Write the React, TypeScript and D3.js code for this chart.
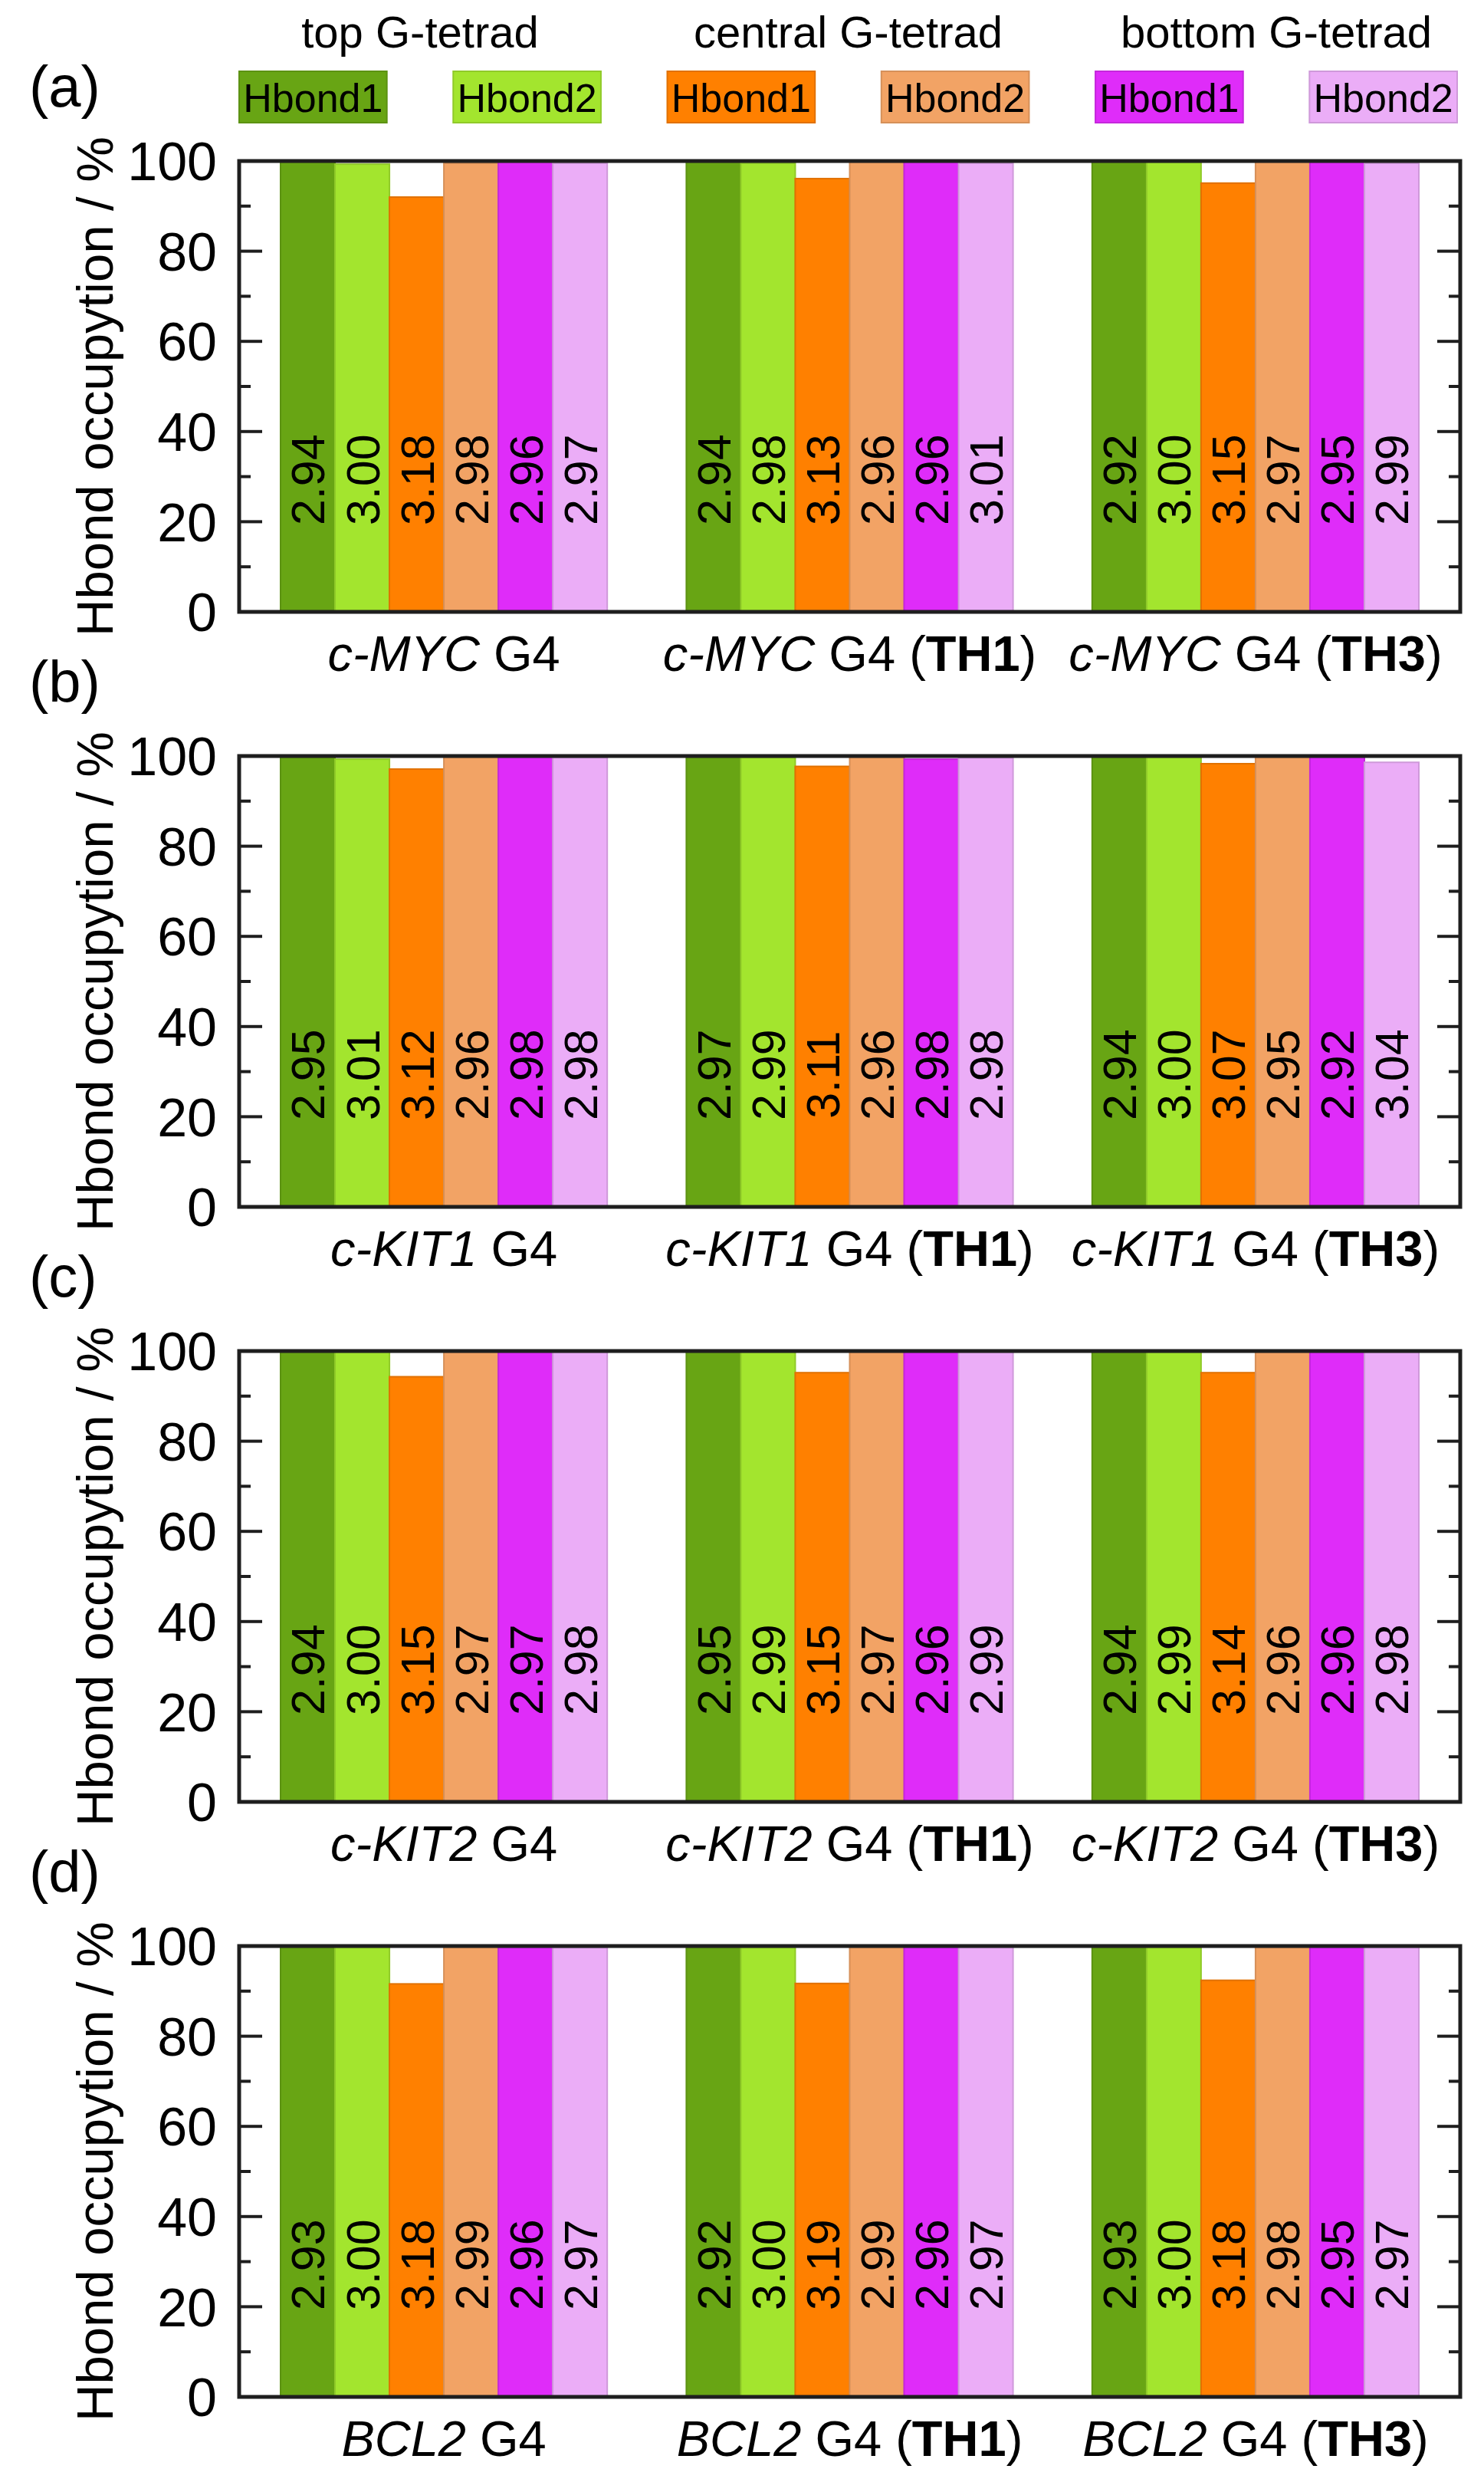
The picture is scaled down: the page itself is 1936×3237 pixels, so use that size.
import React from 'react';
import * as d3 from 'd3';

// panels, groups and series
const panelLetters = ['(a)', '(b)', '(c)', '(d)'];
const genes = ['c-MYC', 'c-KIT1', 'c-KIT2', 'BCL2'];
const ligands = ['', 'TH1', 'TH3'];
const tetrads = ['top G-tetrad', 'central G-tetrad', 'bottom G-tetrad'];
const seriesKeys = ['top1', 'top2', 'cen1', 'cen2', 'bot1', 'bot2'];
const seriesNames = ['Hbond1', 'Hbond2', 'Hbond1', 'Hbond2', 'Hbond1', 'Hbond2'];
const seriesColors = ['#68a514', '#a3e52e', '#ff8000', '#f2a365', '#df2cf9', '#ebadf7'];
const yTicks = [0, 20, 40, 60, 80, 100];
const yMinor = [10, 30, 50, 70, 90];

// occupancy (%) per group: [G4, G4 (TH1), G4 (TH3)] x 6 series
const occMYC = [
  [100, 99.3, 92.0, 99.5, 100, 99.5],
  [100, 99.5, 96.1, 100, 100, 99.5],
  [100, 99.8, 95.1, 100, 100, 99.5],
];
const occKIT1 = [
  [99.9, 99.3, 97.1, 99.8, 99.9, 99.7],
  [99.9, 99.7, 97.7, 99.8, 99.3, 99.6],
  [99.9, 99.8, 98.3, 99.8, 100, 98.6],
];
const occKIT2 = [
  [100, 99.8, 94.3, 100, 100, 99.8],
  [100, 99.8, 95.2, 100, 100, 99.8],
  [100, 100, 95.2, 100, 100, 99.8],
];
const occBCL2 = [
  [100, 99.8, 91.6, 100, 100, 99.7],
  [100, 99.8, 91.7, 100, 100, 99.8],
  [100, 99.8, 92.4, 100, 100, 99.8],
];

// mean Hbond distances printed on the bars
const distMYC = [
  ['2.94', '3.00', '3.18', '2.98', '2.96', '2.97'],
  ['2.94', '2.98', '3.13', '2.96', '2.96', '3.01'],
  ['2.92', '3.00', '3.15', '2.97', '2.95', '2.99'],
];
const distKIT1 = [
  ['2.95', '3.01', '3.12', '2.96', '2.98', '2.98'],
  ['2.97', '2.99', '3.11', '2.96', '2.98', '2.98'],
  ['2.94', '3.00', '3.07', '2.95', '2.92', '3.04'],
];
const distKIT2 = [
  ['2.94', '3.00', '3.15', '2.97', '2.97', '2.98'],
  ['2.95', '2.99', '3.15', '2.97', '2.96', '2.99'],
  ['2.94', '2.99', '3.14', '2.96', '2.96', '2.98'],
];
const distBCL2 = [
  ['2.93', '3.00', '3.18', '2.99', '2.96', '2.97'],
  ['2.92', '3.00', '3.19', '2.99', '2.96', '2.97'],
  ['2.93', '3.00', '3.18', '2.98', '2.95', '2.97'],
];

const occupancies = [occMYC, occKIT1, occKIT2, occBCL2];
const distances = [distMYC, distKIT1, distKIT2, distBCL2];

const W = 1936;
const H = 3237;
const FONT = '"Liberation Sans", Arial, Helvetica, sans-serif';
const frameLeft = 312;
const frameRight = 1905;
const firstTop = 210;
const panelStep = 776;
const panelH = 588;
const axisColor = '#1e1e1e';

const groupScale = d3
  .scaleBand<number>()
  .domain([0, 1, 2])
  .range([frameLeft, frameRight])
  .paddingInner(0.195)
  .paddingOuter(0.102);

const barScale = d3
  .scaleBand<string>()
  .domain(seriesKeys)
  .range([0, groupScale.bandwidth()])
  .padding(0);

const legendScale = d3
  .scaleBand<string>()
  .domain(seriesKeys)
  .range([frameLeft, frameRight - 4])
  .paddingInner(0.31)
  .paddingOuter(0);

const colorOf = d3.scaleOrdinal<string, string>().domain(seriesKeys).range(seriesColors);

function Panel({ index }: { index: number }) {
  const top = firstTop + index * panelStep;
  const bottom = top + panelH;
  const y = d3.scaleLinear().domain([0, 100]).range([bottom, top]);
  const occ = occupancies[index];
  const dist = distances[index];

  return (
    <g>
      <text x={38} y={top - 71} fontSize={76} fontFamily={FONT}>
        {panelLetters[index]}
      </text>

      {/* bars */}
      {occ.map((row, gi) =>
        row.map((v, si) => {
          const key = seriesKeys[si];
          const x = (groupScale(gi) as number) + (barScale(key) as number);
          const c = colorOf(key);
          return (
            <rect
              key={`${gi}-${si}`}
              x={x}
              y={y(v)}
              width={barScale.bandwidth()}
              height={y(0) - y(v)}
              fill={c}
              stroke={d3.color(c)!.darker(0.35).formatHex()}
              strokeWidth={2}
            />
          );
        })
      )}

      {/* value labels */}
      {dist.map((row, gi) =>
        row.map((t, si) => {
          const cx = (groupScale(gi) as number) + (barScale(seriesKeys[si]) as number) + barScale.bandwidth() / 2;
          const cy = y(29.3);
          return (
            <text
              key={`t${gi}-${si}`}
              transform={`translate(${cx},${cy}) rotate(-90)`}
              textAnchor="middle"
              dy="0.36em"
              fontSize={61}
              fontFamily={FONT}
              fill="#000"
            >
              {t}
            </text>
          );
        })
      )}

      {/* ticks */}
      {yTicks.map((t) => (
        <g key={`M${t}`}>
          <line x1={frameLeft} x2={frameLeft + 30} y1={y(t)} y2={y(t)} stroke={axisColor} strokeWidth={4} />
          <line x1={frameRight} x2={frameRight - 30} y1={y(t)} y2={y(t)} stroke={axisColor} strokeWidth={4} />
          <text x={283} y={y(t)} dy="0.36em" textAnchor="end" fontSize={70} fontFamily={FONT}>
            {t}
          </text>
        </g>
      ))}
      {yMinor.map((t) => (
        <g key={`m${t}`}>
          <line x1={frameLeft} x2={frameLeft + 15} y1={y(t)} y2={y(t)} stroke={axisColor} strokeWidth={4} />
          <line x1={frameRight} x2={frameRight - 15} y1={y(t)} y2={y(t)} stroke={axisColor} strokeWidth={4} />
        </g>
      ))}

      <rect
        x={frameLeft}
        y={top}
        width={frameRight - frameLeft}
        height={panelH}
        fill="none"
        stroke={axisColor}
        strokeWidth={5}
      />

      <text
        transform={`translate(147,${(top + bottom) / 2}) rotate(-90)`}
        textAnchor="middle"
        fontSize={67}
        fontFamily={FONT}
      >
        Hbond occupytion / %
      </text>

      {/* group labels */}
      {ligands.map((lig, gi) => (
        <text
          key={`g${gi}`}
          x={(groupScale(gi) as number) + groupScale.bandwidth() / 2}
          y={bottom + 77}
          textAnchor="middle"
          fontSize={65}
          fontFamily={FONT}
        >
          <tspan fontStyle="italic">{genes[index]}</tspan>
          <tspan> G4</tspan>
          {lig && (
            <>
              <tspan> (</tspan>
              <tspan fontWeight="bold">{lig}</tspan>
              <tspan>)</tspan>
            </>
          )}
        </text>
      ))}
    </g>
  );
}

export default function App() {
  return (
    <svg
      width={W}
      height={H}
      viewBox={`0 0 ${W} ${H}`}
      style={{ position: 'absolute', left: 0, top: 0, background: '#fff' }}
    >
      <rect x={0} y={0} width={W} height={H} fill="#fff" />

      {/* legend */}
      {tetrads.map((t, i) => {
        const a = legendScale(seriesKeys[i * 2]) as number;
        const b = (legendScale(seriesKeys[i * 2 + 1]) as number) + legendScale.bandwidth();
        return (
          <text key={t} x={(a + b) / 2} y={62} textAnchor="middle" fontSize={58} fontFamily={FONT}>
            {t}
          </text>
        );
      })}
      {seriesKeys.map((k, i) => {
        const c = colorOf(k);
        const x = legendScale(k) as number;
        return (
          <g key={`l${k}`}>
            <rect
              x={x}
              y={93}
              width={legendScale.bandwidth()}
              height={67}
              fill={c}
              stroke={d3.color(c)!.darker(0.35).formatHex()}
              strokeWidth={2}
            />
            <text
              x={x + legendScale.bandwidth() / 2}
              y={146}
              textAnchor="middle"
              fontSize={52}
              fontFamily={FONT}
            >
              {seriesNames[i]}
            </text>
          </g>
        );
      })}

      {panelLetters.map((_, i) => (
        <Panel key={i} index={i} />
      ))}
    </svg>
  );
}
